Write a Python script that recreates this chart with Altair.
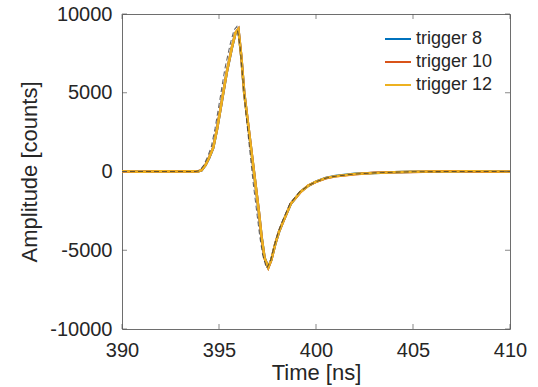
import altair as alt
import pandas as pd

# ---- data ----
t_sig = [390, 391, 392, 393, 393.5, 393.9, 394.1, 394.3, 394.5, 394.7, 394.9, 395.15,
         395.4, 395.67, 395.85, 396.0, 396.15, 396.3, 396.5, 396.7, 396.9, 397.05, 397.2,
         397.35, 397.54, 397.7, 397.9, 398.1, 398.3, 398.7, 399.2, 399.6, 400.0, 400.5,
         401.0, 402.0, 403.0, 404.0, 405.0, 406.0, 407.0, 408.0, 409.0, 410.0]
amp_t8 = [10, -20, 10, 5, 0, 0, 70, 390, 880, 1480, 2680, 4480, 6280, 7880, 8780, 9030,
          7280, 4990, 2980, 990, -1010, -2510, -4190, -5480, -6080, -5590, -4610, -3810,
          -3190, -2060, -1290, -910, -640, -410, -290, -150, -100, -40, -10, -15, 5, 0, 10, 0]
amp_t10 = [0, -10, 20, -5, 10, 5, 85, 405, 905, 1510, 2710, 4510, 6310, 7910, 8810, 9060,
           7310, 5010, 3010, 1010, -990, -2490, -4210, -5510, -6110, -5610, -4590, -3790,
           -3210, -2040, -1310, -890, -660, -430, -310, -170, -80, -50, -25, 0, 15, 5, -10, 5]
amp_t12 = [20, -10, 15, 0, 10, -5, 80, 400, 900, 1500, 2700, 4500, 6300, 7900, 8800, 9050,
           7300, 5000, 3000, 1000, -1000, -2500, -4200, -5500, -6100, -5600, -4600, -3800,
           -3200, -2050, -1300, -900, -650, -420, -300, -160, -90, -45, -20, -5, 0, 10, -5, 0]

t_fit = [390, 392, 393.8, 394.0, 394.2, 394.4, 394.6, 394.8, 395.05, 395.3, 395.58, 395.78,
         395.92, 396.08, 396.22, 396.38, 396.58, 396.78, 396.95, 397.1, 397.25, 397.45,
         397.65, 397.85, 398.05, 398.25, 398.65, 399.15, 399.6, 400.0, 400.5, 401.0, 402.0,
         403.0, 404.0, 405.0, 407.0, 410.0]
amp_fit = [0, 0, 0, 60, 380, 900, 1550, 2750, 4600, 6500, 8100, 9000, 9200, 8000, 6000,
           3800, 1400, -900, -2600, -4100, -5300, -6150, -5700, -4700, -3850, -3200, -2050,
           -1300, -900, -650, -420, -300, -160, -90, -45, -20, 0, 0]

series_names = ["trigger 8", "trigger 10", "trigger 12"]
series_colors = ["#0072BD", "#D95319", "#EDB120"]
x_ticks = [390, 395, 400, 405, 410]
y_ticks = [-10000, -5000, 0, 5000, 10000]

rows = []
for name, vals in zip(series_names, [amp_t8, amp_t10, amp_t12]):
    for tt, vv in zip(t_sig, vals):
        rows.append({"t": tt, "amp": vv, "series": name})
df = pd.DataFrame(rows)
df_fit = pd.DataFrame({"t": t_fit, "amp": amp_fit})

xs = alt.Scale(domain=[390, 410], nice=False, zero=False)
ys = alt.Scale(domain=[-10000, 10000], nice=False, zero=False)

FONT = "Liberation Sans"
TXT = "#262626"

lines = alt.Chart(df).mark_line(strokeWidth=2.5, clip=True).encode(
    x=alt.X("t:Q", scale=xs, title="Time [ns]",
            axis=alt.Axis(values=x_ticks, ticks=False, domain=False, grid=False,
                          labelExpr="datum.value + ''", labelFlush=False,
                          labelFontSize=20, titleFontSize=22, labelPadding=11,
                          titlePadding=2, labelColor=TXT, titleColor=TXT,
                          labelFont=FONT, titleFont=FONT, titleFontWeight="normal")),
    y=alt.Y("amp:Q", scale=ys, title="Amplitude [counts]",
            axis=alt.Axis(values=y_ticks, ticks=False, domain=False, grid=False,
                          labelExpr="datum.value + ''", labelFlush=False,
                          labelFontSize=20, titleFontSize=22, labelPadding=10,
                          titlePadding=8, labelColor=TXT, titleColor=TXT,
                          labelFont=FONT, titleFont=FONT, titleFontWeight="normal")),
    color=alt.Color("series:N",
                    scale=alt.Scale(domain=series_names, range=series_colors),
                    sort=series_names,
                    legend=alt.Legend(title=None, orient="none", legendX=262, legendY=11,
                                      symbolType="stroke", symbolStrokeWidth=2,
                                      symbolSize=676, labelFontSize=18, labelFont=FONT,
                                      labelColor=TXT, labelOffset=4, rowPadding=0,
                                      padding=0, labelLimit=300)),
    order=alt.Order("series_idx:Q"),
).transform_calculate(
    series_idx="indexof(['trigger 8','trigger 10','trigger 12'], datum.series)"
)

fit = alt.Chart(df_fit).mark_line(strokeWidth=1.1, strokeDash=[5, 3], color="#333333",
                                  opacity=0.75, clip=True).encode(
    x=alt.X("t:Q", scale=xs), y=alt.Y("amp:Q", scale=ys))

tick_color = "#555555"
df_xt = pd.DataFrame({"x": x_ticks})
df_yt = pd.DataFrame({"y": y_ticks})
xb = alt.Chart(df_xt).mark_tick(orient="vertical", size=5, thickness=1, color=tick_color,
                                yOffset=-2.5).encode(x=alt.X("x:Q", scale=xs),
                                                     y=alt.datum(-10000, scale=ys))
xt = alt.Chart(df_xt).mark_tick(orient="vertical", size=5, thickness=1, color=tick_color,
                                yOffset=2.5).encode(x=alt.X("x:Q", scale=xs),
                                                    y=alt.datum(10000, scale=ys))
yl = alt.Chart(df_yt).mark_tick(orient="horizontal", size=5, thickness=1, color=tick_color,
                                xOffset=2.5).encode(y=alt.Y("y:Q", scale=ys),
                                                    x=alt.datum(390, scale=xs))
yr = alt.Chart(df_yt).mark_tick(orient="horizontal", size=5, thickness=1, color=tick_color,
                                xOffset=-2.5).encode(y=alt.Y("y:Q", scale=ys),
                                                     x=alt.datum(410, scale=xs))

chart = alt.layer(lines, fit, xb, xt, yl, yr).properties(
    width=388, height=315,
    autosize=alt.AutoSizeParams(type="none"),
    padding={"left": 122, "top": 14, "right": 28, "bottom": 58},
    background="white",
).configure_view(stroke="#6e6e6e", strokeWidth=1)

chart.save("out.html", embed_options={"renderer": "svg", "actions": False})
